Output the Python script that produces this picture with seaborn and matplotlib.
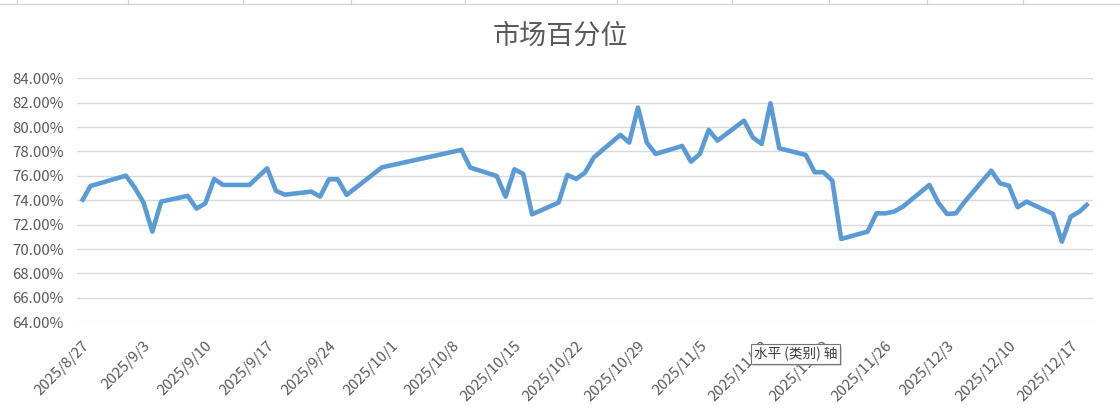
import numpy as np
import pandas as pd
import matplotlib
matplotlib.use("Agg")
import matplotlib.pyplot as plt
from matplotlib.lines import Line2D
from matplotlib.patches import Rectangle
from matplotlib.ticker import FuncFormatter
import seaborn as sns

# ---- data (trading days, value as fraction) ----
dates = [
    "2025-08-27", "2025-08-28", "2025-09-01", "2025-09-02", "2025-09-03",
    "2025-09-04", "2025-09-05", "2025-09-08", "2025-09-09", "2025-09-10",
    "2025-09-11", "2025-09-12", "2025-09-15", "2025-09-17", "2025-09-18",
    "2025-09-19", "2025-09-22", "2025-09-23", "2025-09-24", "2025-09-25",
    "2025-09-26", "2025-09-30", "2025-10-09", "2025-10-10", "2025-10-13",
    "2025-10-14", "2025-10-15", "2025-10-16", "2025-10-17", "2025-10-20",
    "2025-10-21", "2025-10-22", "2025-10-23", "2025-10-24", "2025-10-27",
    "2025-10-28", "2025-10-29", "2025-10-30", "2025-10-31", "2025-11-03",
    "2025-11-04", "2025-11-05", "2025-11-06", "2025-11-07", "2025-11-10",
    "2025-11-11", "2025-11-12", "2025-11-13", "2025-11-14", "2025-11-17",
    "2025-11-18", "2025-11-19", "2025-11-20", "2025-11-21", "2025-11-24",
    "2025-11-25", "2025-11-26", "2025-11-27", "2025-11-28", "2025-12-01",
    "2025-12-02", "2025-12-03", "2025-12-04", "2025-12-05", "2025-12-08",
    "2025-12-09", "2025-12-10", "2025-12-11", "2025-12-12", "2025-12-15",
    "2025-12-16", "2025-12-17", "2025-12-18", "2025-12-19",
]
percentile = [
    73.89, 75.17, 76.02, 75.04, 73.81,
    71.43, 73.89, 74.36, 73.32, 73.75,
    75.75, 75.26, 75.26, 76.62, 74.77,
    74.46, 74.71, 74.30, 75.72, 75.72,
    74.44, 76.70, 78.13, 76.68, 75.99,
    74.30, 76.54, 76.16, 72.85, 73.81,
    76.08, 75.75, 76.27, 77.52, 79.36,
    78.73, 81.60, 78.73, 77.80, 78.45,
    77.17, 77.80, 79.77, 78.89, 80.53,
    79.16, 78.62, 81.95, 78.26, 77.72,
    76.30, 76.30, 75.61, 70.83, 71.43,
    72.93, 72.93, 73.07, 73.48, 75.26,
    73.81, 72.88, 72.93, 73.89, 76.43,
    75.39, 75.20, 73.43, 73.89, 72.88,
    70.61, 72.66, 73.07, 73.75,
]
y_ticks = [0.64, 0.66, 0.68, 0.70, 0.72, 0.74, 0.76, 0.78, 0.80, 0.82, 0.84]
title = "市场百分位"
tooltip = "水平 (类别) 轴"

df = pd.DataFrame({"date": pd.to_datetime(dates),
                   "value": np.array(percentile) / 100})

sns.set_theme(style="white")
plt.rcParams["font.family"] = ["Noto Sans CJK SC", "DejaVu Sans"]
GREY = "#595959"

fig = plt.figure(figsize=(11.2, 4.18), dpi=100)
ax = fig.add_axes([0.0690, 0.2290, 0.9067, 0.5837])

sns.lineplot(data=df, x="date", y="value", ax=ax, color="#5B9BD5",
             linewidth=3.3, solid_joinstyle="round", solid_capstyle="butt")

ax.set_ylim(y_ticks[0], y_ticks[-1])
ax.set_yticks(y_ticks)
ax.yaxis.set_major_formatter(FuncFormatter(lambda v, _: f"{v:.2%}"))
ax.grid(axis="y", color="#D9D9D9", linewidth=1.0)
ax.set_axisbelow(True)

half = pd.Timedelta(hours=12)
ax.set_xlim(df["date"].iloc[0] - half, df["date"].iloc[-1] + half)
ticks = pd.date_range(df["date"].iloc[0], df["date"].iloc[-1], freq="7D")
ax.set_xticks(ticks)
ax.set_xticklabels([f"{d.year}/{d.month}/{d.day}" for d in ticks],
                   rotation=45, ha="right", va="top", rotation_mode="anchor")
ax.tick_params(axis="x", length=0, pad=12, labelsize=10.8, labelcolor=GREY)
ax.tick_params(axis="y", length=0, pad=10, labelsize=10.8, labelcolor=GREY)
ax.set_xlabel("")
ax.set_ylabel("")
for s in ax.spines.values():
    s.set_visible(False)

fig.text(0.5, 1 - 36 / 418, title, ha="center", va="center",
         fontsize=19.5, color=GREY)

# spreadsheet cell borders peeking above the chart
fig.add_artist(Line2D([0, 1], [1 - 3.5 / 418] * 2, color="#D4D4D4", lw=1))
for px in [17, 128, 243, 351, 465, 617, 732, 829, 927, 1023]:
    fig.add_artist(Line2D([px / 1120] * 2, [1 - 3.5 / 418, 1],
                          color="#D4D4D4", lw=1))

# hover tooltip left in the screenshot (with a soft drop shadow)
fig.add_artist(Rectangle((753 / 1120, 1 - 366 / 418), 89 / 1120, 19 / 418,
                         transform=fig.transFigure, fc="#BBBBBB", ec="none",
                         alpha=0.6))
fig.text(754 / 1120, 1 - 354 / 418, tooltip, ha="left", va="center",
         fontsize=9.8, color="#3C3C3C",
         bbox=dict(boxstyle="square,pad=0.22", fc="#FAFAFC", ec="#767676",
                   lw=0.8))

fig.savefig("out.png", dpi=100)
